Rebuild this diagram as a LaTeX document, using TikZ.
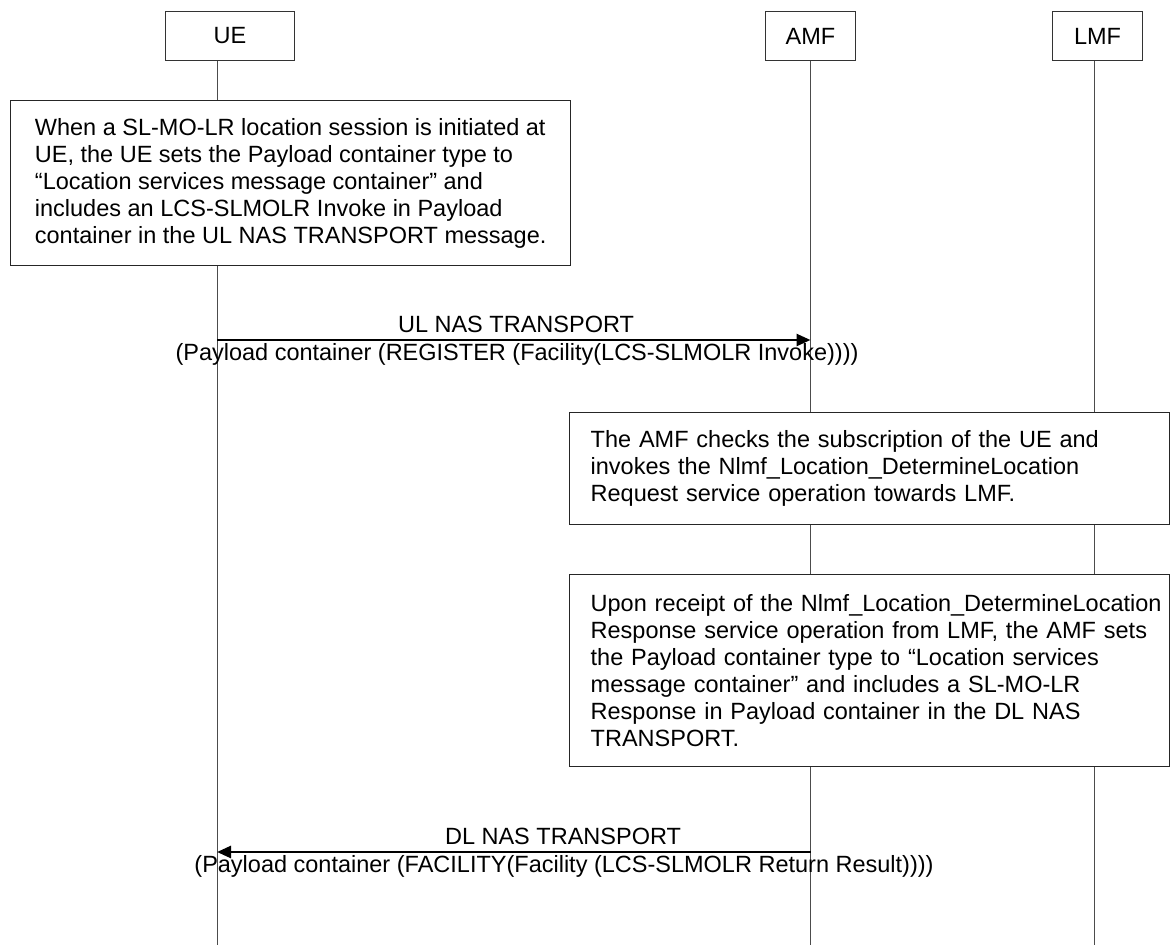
\documentclass[tikz,border=0pt]{standalone}
\usepackage{fontspec}
\setmainfont{Liberation Sans}
\usetikzlibrary{arrows.meta}

\begin{document}
\begin{tikzpicture}[x=1pt, y=-1pt, font=\fontsize{23.5pt}{27pt}\selectfont]
\tikzset{
  actor/.style = {draw=black!80, line width=1pt, anchor=north west, inner sep=0pt, minimum width=90pt, minimum height=49pt},
  lifeline/.style = {draw=black!70, line width=1pt},
  note/.style = {draw=black!85, fill=white, line width=1.4pt, anchor=north west, align=left, inner xsep=21pt, inner ysep=0pt},
  msg/.style = {line width=2.6pt, -{Triangle[length=14pt, width=12pt]}},
}
\useasboundingbox (0,0) rectangle (1170,945);

\node[actor, minimum width=129pt] (ue) at (165,11) {UE};
\node[actor] (amf) at (765,11) {AMF};
\node[actor] (lmf) at (1052,11) {LMF};

\coordinate (ue_end) at (217,945);
\coordinate (amf_end) at (amf.south |- 0,945);
\coordinate (lmf_end) at (1094,945);

\draw[lifeline] (ue.south -| ue_end) -- (ue_end);
\draw[lifeline] (amf.south) -- (amf_end);
\draw[lifeline] (lmf.south -| lmf_end) -- (lmf_end);

\node[note, inner xsep=0pt, minimum width=560pt, minimum height=165pt] (ue_note) at (10,100)
  {When a SL-MO-LR location session is initiated at\\UE, the UE sets the Payload container type to\\“Location services message container” and\\includes an LCS-SLMOLR Invoke in Payload\\container in the UL NAS TRANSPORT message.};

\coordinate (ul_start) at (ue_end |- 0,340);
\coordinate (ul_end) at (amf_end |- 0,340);
\draw[msg] (ul_start) -- (ul_end);
\node (ul_name) at (516,324) {UL NAS TRANSPORT};
\node (ul_param) at (517,354) {(Payload container (REGISTER (Facility(LCS-SLMOLR Invoke))))};

\node[note, minimum width=600pt, minimum height=112pt, text width=558pt] (amf_check) at (569,412)
  {The AMF checks the subscription of the UE and\\invokes the Nlmf\_Location\_DetermineLocation\\Request service operation towards LMF.};

\node[note, minimum width=600pt, minimum height=192pt, text width=558pt] (amf_resp) at (569,574)
  {Upon receipt of the Nlmf\_Location\_DetermineLocation\\Response service operation from LMF, the AMF sets\\the Payload container type to “Location services\\message container” and includes a SL-MO-LR\\Response in Payload container in the DL NAS\\TRANSPORT.};

\coordinate (dl_start) at (amf_end |- 0,852);
\coordinate (dl_end) at (ue_end |- 0,852);
\draw[msg] (dl_start) -- (dl_end);
\node (dl_name) at (563,836) {DL NAS TRANSPORT};
\node (dl_param) at (564,866) {(Payload container (FACILITY(Facility (LCS-SLMOLR Return Result))))};
\end{tikzpicture}
\end{document}
